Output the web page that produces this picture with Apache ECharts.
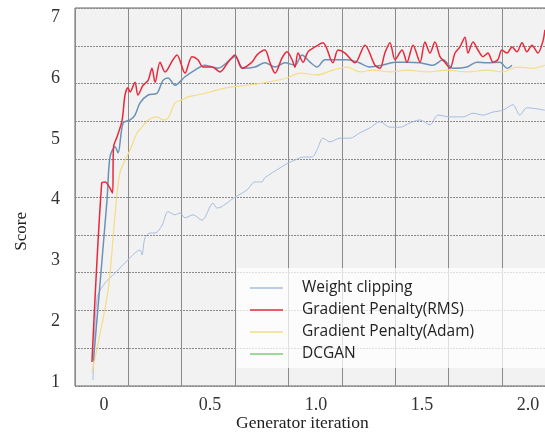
<!DOCTYPE html>
<html>
<head>
<meta charset="utf-8">
<script src="https://cdn.jsdelivr.net/npm/echarts@6/dist/echarts.min.js"></script>
<style>
  html, body { margin: 0; padding: 0; background: #fff; overflow: hidden; }
  #chart { width: 560px; height: 438px; }
</style>
</head>
<body>
<div id="chart"></div>
<script>
// values: [generator iteration, score]
const weightClipping = [
  [-0.052, 1.03], [-0.033, 2.38], [0.005, 2.63], [0.052, 2.79], [0.113, 3.01], [0.170, 3.17],
  [0.179, 3.09], [0.193, 3.37], [0.217, 3.45], [0.241, 3.45], [0.274, 3.58], [0.302, 3.80],
  [0.335, 3.75], [0.358, 3.78], [0.382, 3.70], [0.420, 3.75], [0.462, 3.66], [0.514, 3.94],
  [0.533, 3.86], [0.618, 4.04], [0.675, 4.16], [0.712, 4.29], [0.745, 4.29], [0.759, 4.36],
  [0.830, 4.52], [0.868, 4.60], [0.901, 4.65], [0.939, 4.70], [0.981, 4.70], [1.005, 4.82],
  [1.033, 5.01], [1.066, 4.95], [1.113, 5.01], [1.160, 5.01], [1.208, 5.10], [1.255, 5.18],
  [1.302, 5.28], [1.349, 5.19], [1.396, 5.19], [1.443, 5.26], [1.491, 5.31], [1.538, 5.23],
  [1.575, 5.39], [1.632, 5.36], [1.693, 5.36], [1.741, 5.42], [1.788, 5.39], [1.835, 5.44],
  [1.882, 5.47], [1.929, 5.56], [1.962, 5.39], [1.995, 5.51], [2.080, 5.47]
];
const gpRms = [
  [-0.057, 1.33], [-0.011, 4.27], [0.005, 4.29], [0.040, 4.11], [0.045, 4.87], [0.061, 5.03],
  [0.085, 5.30], [0.099, 5.72], [0.113, 5.84], [0.123, 5.77], [0.146, 5.93], [0.160, 5.72],
  [0.184, 5.88], [0.208, 5.96], [0.226, 6.16], [0.241, 5.93], [0.264, 6.26], [0.288, 6.10],
  [0.325, 6.30], [0.344, 6.38], [0.382, 6.08], [0.415, 6.35], [0.443, 6.30], [0.467, 6.18],
  [0.509, 6.18], [0.547, 6.10], [0.585, 6.26], [0.618, 6.38], [0.651, 6.16], [0.698, 6.26],
  [0.722, 6.38], [0.759, 6.46], [0.783, 6.25], [0.807, 6.08], [0.840, 6.33], [0.863, 6.43],
  [0.887, 6.30], [0.901, 6.18], [0.915, 6.41], [0.939, 6.26], [0.962, 6.43], [0.995, 6.51],
  [1.033, 6.58], [1.080, 6.25], [1.104, 6.46], [1.137, 6.41], [1.184, 6.25], [1.231, 6.54],
  [1.278, 6.21], [1.302, 6.16], [1.325, 6.41], [1.349, 6.58], [1.373, 6.30], [1.406, 6.46],
  [1.429, 6.26], [1.458, 6.54], [1.491, 6.26], [1.514, 6.59], [1.538, 6.41], [1.561, 6.59],
  [1.585, 6.35], [1.608, 6.26], [1.632, 6.16], [1.656, 6.41], [1.679, 6.51], [1.703, 6.67],
  [1.717, 6.41], [1.741, 6.59], [1.764, 6.46], [1.788, 6.35], [1.811, 6.41], [1.835, 6.26],
  [1.858, 6.30], [1.877, 6.46], [1.901, 6.41], [1.925, 6.51], [1.948, 6.43], [1.972, 6.58],
  [1.995, 6.43], [2.019, 6.54], [2.047, 6.41], [2.071, 6.61], [2.080, 6.79]
];
const gpAdam = [
  [-0.057, 1.16], [0.019, 2.51], [0.052, 3.75], [0.075, 4.44], [0.123, 4.82], [0.156, 5.10],
  [0.179, 5.19], [0.208, 5.31], [0.250, 5.36], [0.278, 5.31], [0.302, 5.34], [0.335, 5.59],
  [0.368, 5.64], [0.396, 5.69], [0.439, 5.72], [0.500, 5.77], [0.580, 5.84], [0.675, 5.88],
  [0.769, 5.93], [0.863, 6.00], [0.925, 6.08], [1.005, 6.05], [1.080, 6.13], [1.146, 6.18],
  [1.208, 6.10], [1.269, 6.13], [1.349, 6.10], [1.429, 6.13], [1.524, 6.10], [1.618, 6.13],
  [1.712, 6.10], [1.807, 6.13], [1.882, 6.10], [1.948, 6.18], [2.024, 6.16], [2.080, 6.21]
];
const dcgan = [
  [-0.050, 1.35], [0.014, 3.99], [0.028, 4.70], [0.052, 4.87], [0.066, 4.77], [0.090, 5.26],
  [0.123, 5.31], [0.146, 5.39], [0.170, 5.59], [0.208, 5.72], [0.250, 5.75], [0.278, 5.96],
  [0.302, 6.00], [0.335, 5.88], [0.382, 6.02], [0.429, 6.13], [0.476, 6.21], [0.538, 6.16],
  [0.618, 6.35], [0.656, 6.16], [0.712, 6.18], [0.759, 6.25], [0.807, 6.18], [0.854, 6.25],
  [0.901, 6.21], [0.934, 6.38], [0.972, 6.26], [1.005, 6.18], [1.042, 6.30], [1.099, 6.30],
  [1.146, 6.30], [1.198, 6.26], [1.255, 6.18], [1.311, 6.21], [1.373, 6.26], [1.429, 6.26],
  [1.491, 6.25], [1.552, 6.21], [1.599, 6.30], [1.646, 6.16], [1.712, 6.18], [1.759, 6.26],
  [1.807, 6.25], [1.868, 6.26], [1.901, 6.16], [1.925, 6.21]
];
const xTicks = [0, 0.5, 1.0, 1.5, 2.0];
const yTicks = [1, 2, 3, 4, 5, 6, 7];
const legendNames = ['Weight clipping', 'Gradient Penalty(RMS)', 'Gradient Penalty(Adam)', 'DCGAN'];

const chart = echarts.init(document.getElementById('chart'));
const serif = 'Liberation Serif';

chart.setOption({
  animation: false,
  grid: {
    left: 75, top: 8, right: 10, bottom: 52,
    show: true, backgroundColor: '#f2f2f2', borderColor: '#666', borderWidth: 1
  },
  xAxis: [{
    type: 'value', min: -0.137, max: 2.104,
    axisLine: { show: false }, axisTick: { show: false }, splitLine: { show: false },
    axisLabel: {
      customValues: xTicks, margin: 10,
      fontFamily: serif, fontSize: 18, color: '#333',
      formatter: v => v === 0 ? '0' : v.toFixed(1)
    }
  }, {
    type: 'value', min: 0, max: 8.9, interval: 1,
    axisLine: { show: false }, axisTick: { show: false }, axisLabel: { show: false },
    splitLine: { show: true, lineStyle: { color: '#8a8a8a', width: 1 } }
  }],
  yAxis: [{
    type: 'value', min: 0.934, max: 7.151,
    axisLine: { show: false }, axisTick: { show: false }, splitLine: { show: false },
    axisLabel: {
      customValues: yTicks, margin: 15,
      fontFamily: serif, fontSize: 18, color: '#333'
    }
  }, {
    type: 'value', min: 0, max: 10, interval: 1,
    axisLine: { show: false }, axisTick: { show: false }, axisLabel: { show: false },
    splitLine: { show: true, lineStyle: { color: '#8a8a8a', width: 1, type: [2, 1] } }
  }],
  legend: {
    orient: 'vertical', left: 237, top: 268,
    padding: [12, 120, 6, 13],
    backgroundColor: 'rgba(255,255,255,0.72)',
    icon: 'rect', itemWidth: 33, itemHeight: 1.5, itemGap: 6,
    textStyle: { fontFamily: 'Open Sans', fontSize: 15.5, color: '#222', padding: [0, 0, 0, 14], lineHeight: 16 },
    data: [
      { name: legendNames[0] },
      { name: legendNames[1] },
      { name: legendNames[2] },
      { name: legendNames[3], itemStyle: { color: '#7ccf7c' } }
    ]
  },
  graphic: [
    { type: 'text', left: 13, top: 212, rotation: Math.PI / 2,
      style: { text: 'Score', font: '17px "Liberation Serif"', fill: '#222' } },
    { type: 'text', left: 236, top: 414,
      style: { text: 'Generator iteration', font: '17.5px "Liberation Serif"', fill: '#222' } }
  ],
  series: [
    { name: legendNames[0], type: 'line', data: weightClipping, symbol: 'none', smooth: 0.3,
      lineStyle: { color: '#a6bde2', width: 1 }, itemStyle: { color: '#a6bde2' } },
    { name: legendNames[2], type: 'line', data: gpAdam, symbol: 'none', smooth: 0.3,
      lineStyle: { color: '#f5dc85', width: 1.2 }, itemStyle: { color: '#f5dc85' } },
    { name: legendNames[3], type: 'line', data: dcgan, symbol: 'none', smooth: 0.3,
      lineStyle: { color: '#6a92b6', width: 1.5 }, itemStyle: { color: '#6a92b6' } },
    { name: legendNames[1], type: 'line', data: gpRms, symbol: 'none', smooth: 0.3,
      lineStyle: { color: '#e8293c', width: 1.5 }, itemStyle: { color: '#e8293c' } }
  ]
});
</script>
</body>
</html>
